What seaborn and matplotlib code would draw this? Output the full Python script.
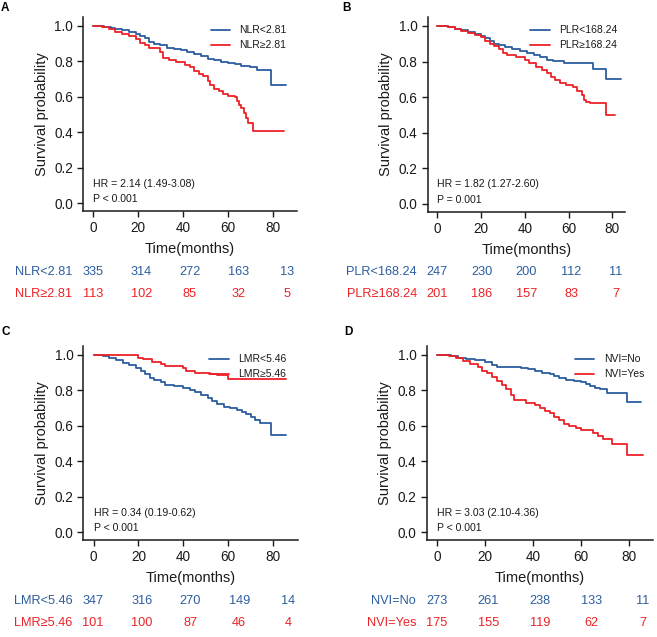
import matplotlib
matplotlib.use("Agg")
import matplotlib.pyplot as plt
import seaborn as sns
import pandas as pd

W, H = 657, 637
BLUE = "#2C5DA0"
RED = "#EC2227"

# ---- survival curves (time in months, survival probability)
nlr_low_t = [0, 5, 8, 10, 13, 16, 19, 21, 23, 25, 27, 30, 33, 36, 39, 42, 45, 48, 51, 54, 57, 60, 63, 66, 70, 73, 79, 86]
nlr_low_s = [1.0, 0.995, 0.99, 0.98, 0.975, 0.965, 0.955, 0.945, 0.93, 0.91, 0.9, 0.89, 0.875, 0.87, 0.865, 0.855, 0.84, 0.83, 0.815, 0.805, 0.795, 0.79, 0.785, 0.775, 0.77, 0.75, 0.665, 0.665]
nlr_high_t = [0, 4, 7, 10, 13, 16, 19, 21, 23, 25, 30, 31, 34, 37, 41, 43, 45, 47, 49, 51, 52, 54, 56, 58, 60, 63, 64, 65, 66, 67, 68, 69, 71, 85]
nlr_high_s = [1.0, 0.995, 0.98, 0.965, 0.955, 0.94, 0.925, 0.905, 0.89, 0.875, 0.855, 0.82, 0.81, 0.795, 0.78, 0.765, 0.745, 0.73, 0.715, 0.69, 0.665, 0.645, 0.63, 0.615, 0.605, 0.6, 0.575, 0.555, 0.535, 0.51, 0.48, 0.45, 0.405, 0.405]

plr_low_t = [0, 5, 8, 11, 14, 17, 20, 22, 24, 26, 28, 31, 34, 38, 41, 44, 47, 50, 53, 58, 71, 77, 84]
plr_low_s = [1.0, 0.995, 0.985, 0.975, 0.965, 0.955, 0.945, 0.93, 0.915, 0.9, 0.89, 0.88, 0.87, 0.86, 0.85, 0.835, 0.825, 0.81, 0.805, 0.79, 0.757, 0.703, 0.703]
plr_high_t = [0, 5, 8, 11, 14, 17, 20, 22, 24, 26, 28, 30, 32, 36, 40, 42, 45, 48, 50, 52, 54, 56, 59, 62, 64, 66, 67, 68, 70, 77, 81]
plr_high_s = [1.0, 0.995, 0.98, 0.97, 0.96, 0.95, 0.935, 0.915, 0.9, 0.885, 0.87, 0.85, 0.835, 0.825, 0.81, 0.79, 0.77, 0.755, 0.735, 0.715, 0.695, 0.68, 0.67, 0.655, 0.635, 0.61, 0.585, 0.575, 0.565, 0.5, 0.5]

lmr_low_t = [0, 4, 7, 10, 13, 16, 19, 21, 23, 25, 27, 30, 32, 36, 40, 43, 45, 48, 51, 53, 55, 58, 61, 64, 66, 68, 70, 72, 74, 79, 86]
lmr_low_s = [1.0, 0.995, 0.985, 0.97, 0.955, 0.94, 0.925, 0.91, 0.89, 0.87, 0.86, 0.845, 0.83, 0.825, 0.815, 0.8, 0.79, 0.775, 0.755, 0.74, 0.72, 0.705, 0.7, 0.69, 0.675, 0.665, 0.65, 0.635, 0.615, 0.55, 0.55]
lmr_high_t = [0, 20, 22, 26, 30, 32, 40, 41, 45, 52, 55, 60, 86]
lmr_high_s = [1.0, 0.985, 0.975, 0.96, 0.95, 0.935, 0.925, 0.91, 0.9, 0.89, 0.885, 0.865, 0.865]

nvi_no_t = [0, 6, 9, 12, 16, 20, 23, 25, 35, 38, 41, 44, 47, 49, 51, 54, 57, 60, 62, 64, 66, 68, 71, 79, 85]
nvi_no_s = [1.0, 0.995, 0.985, 0.975, 0.97, 0.96, 0.945, 0.93, 0.925, 0.92, 0.91, 0.9, 0.89, 0.88, 0.87, 0.86, 0.85, 0.845, 0.835, 0.825, 0.815, 0.805, 0.785, 0.735, 0.735]
nvi_yes_t = [0, 5, 8, 11, 14, 17, 19, 21, 23, 25, 27, 29, 31, 32, 37, 41, 43, 45, 47, 49, 51, 53, 55, 58, 60, 65, 67, 69, 73, 79, 86]
nvi_yes_s = [1.0, 0.995, 0.98, 0.965, 0.95, 0.93, 0.91, 0.9, 0.875, 0.855, 0.83, 0.805, 0.775, 0.745, 0.73, 0.715, 0.7, 0.685, 0.67, 0.65, 0.63, 0.61, 0.6, 0.585, 0.575, 0.56, 0.54, 0.525, 0.495, 0.435, 0.435]

# ---- numbers at risk
risk_times = [0, 20, 40, 60, 80]
nlr_low_risk = [335, 314, 272, 163, 13]
nlr_high_risk = [113, 102, 85, 32, 5]
plr_low_risk = [247, 230, 200, 112, 11]
plr_high_risk = [201, 186, 157, 83, 7]
lmr_low_risk = [347, 316, 270, 149, 14]
lmr_high_risk = [101, 100, 87, 46, 4]
nvi_no_risk = [273, 261, 238, 133, 11]
nvi_yes_risk = [175, 155, 119, 62, 7]

group_labels = {
    "A": ["NLR<2.81", "NLR≥2.81"],
    "B": ["PLR<168.24", "PLR≥168.24"],
    "C": ["LMR<5.46", "LMR≥5.46"],
    "D": ["NVI=No", "NVI=Yes"],
}
hr_text = {
    "A": ["HR = 2.14 (1.49-3.08)", "P < 0.001"],
    "B": ["HR = 1.82 (1.27-2.60)", "P = 0.001"],
    "C": ["HR = 0.34 (0.19-0.62)", "P < 0.001"],
    "D": ["HR = 3.03 (2.10-4.36)", "P < 0.001"],
}


def rect(left, right, top, bottom):
    return [left / W, 1 - bottom / H, (right - left) / W, (bottom - top) / H]


sns.set_theme(style="ticks")
plt.rcParams["font.family"] = ["Liberation Sans", "DejaVu Sans"]
plt.rcParams["text.color"] = "#1a1a1a"
plt.rcParams["axes.labelcolor"] = "#1a1a1a"
plt.rcParams["xtick.color"] = "#1a1a1a"
plt.rcParams["ytick.color"] = "#1a1a1a"

fig = plt.figure(figsize=(W / 100, H / 100), dpi=100)

panels = [
    # key, curves, risks, plot rect (l, r, t, b), xlim, table rows y, letter xy, legend x
    ("A", [(nlr_low_t, nlr_low_s), (nlr_high_t, nlr_high_s)], [nlr_low_risk, nlr_high_risk],
     (83, 297, 17, 211), (-4.4, 90.7), (272, 294), (1, 8), 0.597),
    ("B", [(plr_low_t, plr_low_s), (plr_high_t, plr_high_s)], [plr_low_risk, plr_high_risk],
     (427.7, 625, 17, 212), (-4.4, 85.8), (272, 294), (342, 8), 0.52),
    ("C", [(lmr_low_t, lmr_low_s), (lmr_high_t, lmr_high_s)], [lmr_low_risk, lmr_high_risk],
     (83.3, 297.7, 346, 540), (-4.6, 91), (601.5, 623), (1, 332), 0.588),
    ("D", [(nvi_no_t, nvi_no_s), (nvi_yes_t, nvi_yes_s)], [nvi_no_risk, nvi_yes_risk],
     (426.7, 652.7, 346, 540), (-4.2, 89.9), (600.5, 623), (344, 332), 0.657),
]

for key, curves, risks, (l, r, t, b), xlim, rows, letter, leg_x in panels:
    labels = group_labels[key]
    frames = []
    for (times, surv), lab in zip(curves, labels):
        frames.append(pd.DataFrame({"time": times, "surv": surv, "group": lab}))
    df = pd.concat(frames, ignore_index=True)

    ax = fig.add_axes(rect(l, r, t, b))
    sns.lineplot(data=df, x="time", y="surv", hue="group", hue_order=labels,
                 palette=[BLUE, RED], drawstyle="steps-post", estimator=None,
                 linewidth=1.3, ax=ax, zorder=3)
    ax.set_xlim(*xlim)
    ax.set_ylim(-0.045, 1.05)
    ax.set_xticks([0, 20, 40, 60, 80])
    ax.set_yticks([0.0, 0.2, 0.4, 0.6, 0.8, 1.0])
    ax.set_yticklabels(["0.0", "0.2", "0.4", "0.6", "0.8", "1.0"])
    ax.tick_params(labelsize=9.8, length=4, width=1.0, pad=3.2)
    ax.set_xlabel("Time(months)", fontsize=10.5, labelpad=5)
    ax.set_ylabel("Survival probability", fontsize=10.5, labelpad=4)
    for side in ["left", "bottom"]:
        ax.spines[side].set_linewidth(1.1)
        ax.spines[side].set_color("#1a1a1a")
    sns.despine(ax=ax)

    handles, _ = ax.get_legend_handles_labels()
    leg = ax.legend(handles[:2], labels, loc="upper left", bbox_to_anchor=(leg_x, 0.958),
                    frameon=False, fontsize=7.5, handlelength=1.85, handletextpad=0.9,
                    labelspacing=0.5, borderpad=0, borderaxespad=0)
    leg.set_zorder(1)

    ax.text(0, 0.11, hr_text[key][0], fontsize=7.6, ha="left", va="center")
    ax.text(0, 0.02, hr_text[key][1], fontsize=7.6, ha="left", va="center")

    fig.text(letter[0] / W, 1 - letter[1] / H, key, fontsize=8.5, fontweight="bold",
             ha="left", va="center", color="black")

    # risk table sharing the horizontal span of the plot
    top_row, bot_row = rows
    tax = fig.add_axes(rect(l, r, top_row - 11, bot_row + 11))
    tax.set_xlim(-4, 84)
    tax.set_ylim(-0.5, 1.5)
    tax.axis("off")
    for yrow, counts, lab, col in zip([1, 0], risks, labels, [BLUE, RED]):
        for tm, n in zip(risk_times, counts):
            tax.text(tm, yrow, str(n), color=col, fontsize=9.2, ha="center", va="center")
        tax.annotate(lab, xy=(0, yrow), xycoords=("axes fraction", "data"),
                     xytext=(-7.7, 0), textcoords="offset points",
                     color=col, fontsize=9.2, ha="right", va="center")

fig.savefig("out.png", dpi=100)
plt.close(fig)
